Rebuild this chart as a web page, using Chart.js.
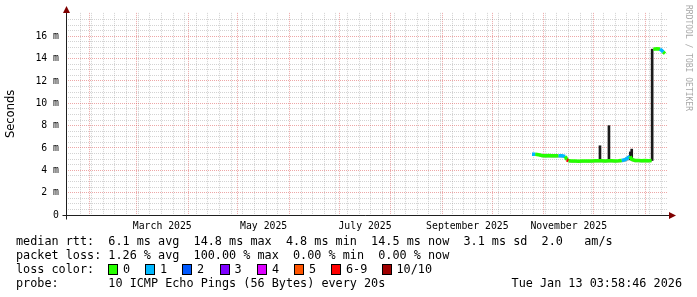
<!DOCTYPE html>
<html lang="en">
<head>
    <meta charset="UTF-8">
    <title>Smokeping - last 365 days</title>
    <script src="https://cdn.jsdelivr.net/npm/chart.js"></script>
    <style>
        body {
            margin: 0;
            background: #fff;
        }

        .graph {
            position: relative;
            width: 697px;
            height: 297px;
        }

        .graph canvas {
            position: absolute;
            left: 0;
            top: 0;
        }

        .legend-line {
            position: absolute;
            left: 16px;
            font-family: "DejaVu Sans Mono", monospace;
            font-size: 11.8px;
            line-height: 14px;
            white-space: pre;
            color: #000;
        }

        .loss-box {
            position: absolute;
            top: 264px;
            width: 8px;
            height: 9px;
            border: 1px solid #000;
        }

        .loss-label {
            position: absolute;
            top: 262px;
            font-family: "DejaVu Sans Mono", monospace;
            font-size: 11.8px;
            line-height: 14px;
            white-space: pre;
        }

        .stamp {
            position: absolute;
            right: 15px;
            top: 276px;
            font-family: "DejaVu Sans Mono", monospace;
            font-size: 11.8px;
            line-height: 14px;
            white-space: pre;
        }
    </style>
</head>
<body>
    <div class="graph">
        <canvas id="pingChart" width="697" height="297"></canvas>

        <div class="legend-line" style="top:234px">median rtt:  6.1 ms avg  14.8 ms max  4.8 ms min  14.5 ms now  3.1 ms sd  2.0   am/s</div>
        <div class="legend-line" style="top:248px">packet loss: 1.26 % avg  100.00 % max  0.00 % min  0.00 % now</div>
        <div class="legend-line" style="top:262px">loss color:</div>
        <div id="lossLegend"></div>
        <div class="legend-line" style="top:276px">probe:       10 ICMP Echo Pings (56 Bytes) every 20s</div>
        <div class="stamp">Tue Jan 13 03:58:46 2026</div>
    </div>

    <script>
        // x values are days since 2025-01-01 00:00
        const days = [297, 299, 301, 303, 305, 307, 309, 311, 313, 315,
                      317, 318, 319, 321, 323, 325, 327, 329, 331, 333,
                      335, 337, 339, 341, 343, 345, 347, 349, 351, 353,
                      355, 356, 357, 359, 361, 363, 365, 367, 369, 369.5,
                      370, 372, 374, 375, 376, 377];

        // median rtt in ms
        const median = [5.45, 5.44, 5.40, 5.33, 5.31, 5.32, 5.31, 5.30, 5.31, 5.30,
                        5.25, 4.95, 4.85, 4.83, 4.83, 4.82, 4.83, 4.84, 4.83, 4.84,
                        4.85, 4.86, 4.85, 4.84, 4.86, 4.85, 4.84, 4.85, 4.88, 4.95,
                        5.15, 5.25, 4.98, 4.88, 4.87, 4.86, 4.87, 4.86, 4.88, null,
                        14.85, 14.88, 14.86, 14.75, 14.60, 14.45];

        // index into lossColors
        const loss = [0, 1, 0, 0, 0, 0, 0, 0, 0, 1,
                      1, 0, 6, 0, 0, 0, 0, 0, 0, 0,
                      0, 0, 0, 0, 0, 0, 0, 0, 0, 1,
                      1, 1, 0, 0, 0, 0, 0, 0, 0, 0,
                      0, 0, 0, 1, 1, 0];

        const smokeHi = [5.58, 5.55, 5.48, 5.38, 5.35, 5.36, 5.35, 5.34, 5.35, 5.34,
                         5.30, 5.20, 4.92, 4.88, 4.88, 4.87, 4.88, 4.89, 4.88, 4.89,
                         4.92, 4.95, 4.92, 4.90, 4.95, 4.92, 4.90, 4.92, 4.98, 5.10,
                         5.35, 5.40, 5.10, 4.95, 4.93, 4.92, 4.93, 4.92, 4.95, null,
                         14.95, 14.95, 14.93, 14.85, 14.75, 14.60];

        const smokeLo = [5.40, 5.35, 5.28, 5.15, 5.12, 5.14, 5.13, 5.12, 5.14, 5.12,
                         5.10, 4.80, 4.70, 4.68, 4.68, 4.67, 4.68, 4.70, 4.68, 4.70,
                         4.70, 4.70, 4.70, 4.70, 4.70, 4.70, 4.70, 4.70, 4.72, 4.75,
                         4.85, 4.90, 4.80, 4.72, 4.72, 4.71, 4.72, 4.71, 4.72, null,
                         14.75, 14.78, 14.76, 14.65, 14.50, 14.35];

        // dark smoke spikes (low / high in ms)
        const spikeDays = [337.9, 343.3, 356.2, 357.0, 369.3];
        const spikeLo = [4.85, 4.85, 4.95, 4.95, 4.88];
        const spikeHi = [6.2, 8.0, 5.65, 5.9, 14.85];

        const lossColors = ['#26ff00', '#00b8ff', '#0059ff', '#7e00ff', '#dd00ff', '#ff5500', '#ff0000', '#a00000'];
        const lossLabels = ['0', '1', '2', '3', '4', '5', '6-9', '10/10'];
        const lossBoxX = [108, 145, 182, 219.5, 257, 294, 331, 381.5];

        // grid / labels
        const monthStarts = [31, 59, 90, 120, 151, 181, 212, 243, 273, 304, 334, 365];
        const firstWeek = 25;
        const monthLabels = ['March 2025', 'May 2025', 'July 2025', 'September 2025', 'November 2025'];
        const monthLabelDays = [74.5, 135.5, 196.5, 258.1, 319.1];
        const yLabels = [0, 2, 4, 6, 8, 10, 12, 14, 16];
        const yMinorStep = 0.5;
        const xMin = 16.56, xMax = 378.84;
        const yMax = 18.1;

        const gridGray = 'rgba(140,140,140,0.38)';
        const gridRed = 'rgba(220,80,80,0.5)';

        // loss color legend row
        const lossLegend = document.getElementById('lossLegend');
        lossColors.forEach((c, i) => {
            const box = document.createElement('div');
            box.className = 'loss-box';
            box.style.left = lossBoxX[i] + 'px';
            box.style.background = c;
            lossLegend.appendChild(box);
            const lab = document.createElement('div');
            lab.className = 'loss-label';
            lab.style.left = (lossBoxX[i] + 15) + 'px';
            lab.textContent = lossLabels[i];
            lossLegend.appendChild(lab);
        });

        const weekTicks = [];
        for (let d = firstWeek; d < xMax; d += 7) {
            if (!monthStarts.includes(d)) weekTicks.push(d);
        }
        const xTicks = [...weekTicks, ...monthStarts, ...monthLabelDays].sort((a, b) => a - b);

        const yTicks = [];
        for (let v = 0; v < yMax - 0.2; v += yMinorStep) yTicks.push(v);

        const rrdDecor = {
            id: 'rrdDecor',
            afterDraw(chart) {
                const ctx = chart.ctx;
                const a = chart.chartArea;
                const x0 = a.left + 0.5, y0 = a.bottom + 0.5;
                ctx.save();
                ctx.strokeStyle = '#1f1f1f';
                ctx.lineWidth = 1;
                ctx.beginPath();
                ctx.moveTo(x0, y0 + 4);
                ctx.lineTo(x0, a.top);
                ctx.moveTo(x0 - 4, y0);
                ctx.lineTo(a.right + 1, y0);
                ctx.stroke();

                ctx.fillStyle = '#7f0000';
                ctx.beginPath();
                ctx.moveTo(x0, a.top - 7);
                ctx.lineTo(x0 - 3.5, a.top);
                ctx.lineTo(x0 + 3.5, a.top);
                ctx.closePath();
                ctx.fill();
                ctx.beginPath();
                ctx.moveTo(a.right + 8, y0);
                ctx.lineTo(a.right + 1, y0 - 3.5);
                ctx.lineTo(a.right + 1, y0 + 3.5);
                ctx.closePath();
                ctx.fill();

                ctx.translate(688, 5);
                ctx.rotate(Math.PI / 2);
                ctx.font = '8px "DejaVu Sans Mono"';
                ctx.fillStyle = '#a8a8a8';
                ctx.textBaseline = 'middle';
                ctx.fillText('RRDTOOL / TOBI OETIKER', 0, 0);
                ctx.restore();
            }
        };

        const xy = (xs, ys) => xs.map((x, i) => ({ x: x, y: ys[i] }));

        new Chart(document.getElementById('pingChart'), {
            type: 'line',
            data: {
                datasets: [
                    {
                        label: 'median',
                        data: xy(days, median),
                        borderWidth: 3.5,
                        borderColor: lossColors[0],
                        segment: {
                            borderColor: c => lossColors[loss[c.p1DataIndex]]
                        },
                        pointRadius: 0,
                        spanGaps: false,
                        fill: false
                    },
                    {
                        type: 'bar',
                        label: 'spikes',
                        data: spikeDays.map((d, i) => ({ x: d, y: [spikeLo[i], spikeHi[i]] })),
                        backgroundColor: '#1a1a1a',
                        barThickness: 2
                    },
                    {
                        label: 'smoke hi',
                        data: xy(days, smokeHi),
                        borderWidth: 0,
                        borderColor: 'rgba(0,0,0,0)',
                        pointRadius: 0,
                        fill: false
                    },
                    {
                        label: 'smoke lo',
                        data: xy(days, smokeLo),
                        borderWidth: 0,
                        borderColor: 'rgba(0,0,0,0)',
                        backgroundColor: '#b4b4b4',
                        pointRadius: 0,
                        fill: '-1'
                    }
                ]
            },
            options: {
                responsive: false,
                animation: false,
                devicePixelRatio: 1,
                layout: { padding: { left: 0, top: 12, right: 29, bottom: 0 } },
                plugins: {
                    legend: { display: false },
                    tooltip: { enabled: false }
                },
                scales: {
                    x: {
                        type: 'linear',
                        min: xMin,
                        max: xMax,
                        offset: false,
                        afterBuildTicks: s => { s.ticks = xTicks.map(v => ({ value: v })); },
                        afterFit: s => { s.height = 82; },
                        grid: {
                            offset: false,
                            drawTicks: false,
                            color: c => {
                                const v = c.tick ? c.tick.value : null;
                                if (monthLabelDays.includes(v)) return 'rgba(0,0,0,0)';
                                return monthStarts.includes(v) ? gridRed : gridGray;
                            }
                        },
                        border: { display: false, dash: [1, 1] },
                        ticks: {
                            autoSkip: false,
                            maxRotation: 0,
                            padding: 6,
                            color: '#000',
                            font: { family: 'DejaVu Sans Mono', size: 9.8 },
                            callback: v => {
                                const i = monthLabelDays.indexOf(v);
                                return i >= 0 ? monthLabels[i] : '';
                            }
                        }
                    },
                    y: {
                        min: 0,
                        max: yMax,
                        afterBuildTicks: s => { s.ticks = yTicks.map(v => ({ value: v })); },
                        afterFit: s => { s.width = 66; },
                        grid: {
                            drawTicks: false,
                            color: c => {
                                const v = c.tick ? c.tick.value : null;
                                if (v === 0) return 'rgba(0,0,0,0)';
                                return yLabels.includes(v) ? gridRed : gridGray;
                            }
                        },
                        border: { display: false, dash: [1, 1] },
                        title: {
                            display: true,
                            text: 'Seconds',
                            color: '#000',
                            font: { family: 'DejaVu Sans', size: 11.5 },
                            padding: { top: 4, bottom: 0 }
                        },
                        ticks: {
                            autoSkip: false,
                            padding: 7,
                            color: '#000',
                            font: { family: 'DejaVu Sans Mono', size: 9.8 },
                            callback: v => {
                                if (!yLabels.includes(v)) return '';
                                return v === 0 ? '0' : v + ' m';
                            }
                        }
                    }
                }
            },
            plugins: [rrdDecor]
        });
    </script>
</body>
</html>
